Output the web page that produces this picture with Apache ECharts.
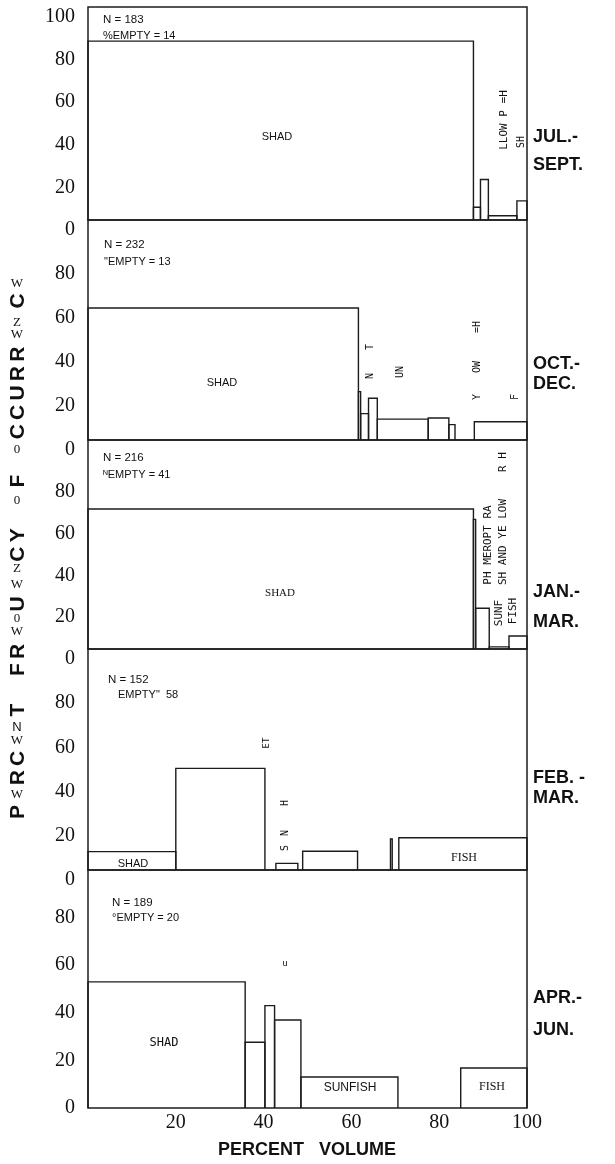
<!DOCTYPE html>
<html><head><meta charset="utf-8">
<script src="https://cdn.jsdelivr.net/npm/echarts@6/dist/echarts.min.js"></script>
<style>html,body{margin:0;padding:0;background:#fff}#c{width:615px;height:1164px}</style>
</head><body><div id="c"></div>
<script>
// ---------------- DATA ----------------
const seasonLine1 = ['JUL.-', 'OCT.-', 'JAN.-', 'FEB. -', 'APR.-'];
const seasonLine2 = ['SEPT.', 'DEC.', 'MAR.', 'MAR.', 'JUN.'];
const sampleN = [183, 232, 216, 152, 189];
const pctEmpty = [14, 13, 41, 58, 20];
const emptyPrefix = ['%EMPTY = ', '"EMPTY = ', 'ᴺEMPTY = ', 'EMPTY"  ', '°EMPTY = '];
const xTickLabels = [20, 40, 60, 80, 100];
const yTickLabels = [0, 20, 40, 60, 80, 100];

// percent volume (bar widths, left to right) and percent frequency of occurrence (bar heights)
const julSepVolume     = [87.8, 1.6, 1.8, 6.5, 2.3];
const julSepOccurrence = [84, 6, 19, 2, 9];
const octDecVolume     = [61.6, 0.5, 1.8, 2.0, 11.6, 4.7, 1.4, 4.4, 12.0];
const octDecOccurrence = [60, 22, 12, 19, 9.5, 10, 7, 0, 8.3];
const janMarVolume     = [87.8, 0.5, 3.1, 4.5, 4.1];
const janMarOccurrence = [67, 62, 19.5, 1, 6.2];
const febMarVolume     = [20, 20.3, 2.5, 5, 1.1, 12.5, 7.5, 0.4, 1.5, 29.2];
const febMarOccurrence = [8.3, 46, 0, 3, 0, 8.5, 0, 14, 0, 14.6];
const aprJunVolume     = [35.8, 4.5, 2.2, 6.0, 22.1, 14.3, 15.1];
const aprJunOccurrence = [53, 27.6, 43, 37, 13, 0, 16.8];

const volumes = [julSepVolume, octDecVolume, janMarVolume, febMarVolume, aprJunVolume];
const occurrences = [julSepOccurrence, octDecOccurrence, janMarOccurrence, febMarOccurrence, aprJunOccurrence];

// ---------------- LAYOUT ----------------
const panelTop = [7, 220, 440, 649, 870];
const panelBottom = [220, 440, 649, 870, 1108];
const plotLeft = 88, plotWidth = 439;
const LINE = '#1c1c1c';

function toBars(vol, occ) {
  let acc = 0;
  return vol.map((w, i) => { const s = acc; acc += w; return [s, acc, occ[i]]; });
}

function renderBar(params, api) {
  const h = api.value(2);
  if (!(h > 0)) return null;
  const a = api.coord([api.value(0), h]);
  const b = api.coord([api.value(1), 0]);
  return {
    type: 'polyline',
    shape: { points: [[a[0], b[1]], [a[0], a[1]], [b[0], a[1]], [b[0], b[1]]] },
    style: { stroke: LINE, lineWidth: 1.4, fill: null }
  };
}

const grids = [], xAxes = [], yAxes = [], series = [];
for (let i = 0; i < 5; i++) {
  grids.push({ left: plotLeft, width: plotWidth, top: panelTop[i], height: panelBottom[i] - panelTop[i],
    show: true, borderColor: LINE, borderWidth: 1.5, backgroundColor: 'transparent' });
  xAxes.push({ type: 'value', gridIndex: i, min: 0, max: 100, interval: 20,
    show: i === 4,
    axisLine: { show: false }, axisTick: { show: false }, splitLine: { show: false },
    axisLabel: { show: i === 4, margin: 5, fontFamily: 'Liberation Serif', fontSize: 20, color: '#111',
      formatter: v => xTickLabels.indexOf(v) >= 0 ? String(v) : '' } });
  yAxes.push({ type: 'value', gridIndex: i, min: 0, max: 100, interval: 20,
    axisLine: { show: false }, axisTick: { show: false }, splitLine: { show: false },
    axisLabel: { margin: 13, fontFamily: 'Liberation Serif', fontSize: 20, color: '#111',
      verticalAlign: i < 4 ? 'top' : 'middle',
      formatter: v => (yTickLabels.indexOf(v) >= 0 && (i === 0 || v < 100)) ? String(v) : '' } });
  series.push({ type: 'custom', xAxisIndex: i, yAxisIndex: i, clip: false,
    encode: { x: [0, 1], y: 2 }, renderItem: renderBar, data: toBars(volumes[i], occurrences[i]) });
}

// ---------------- TEXT ----------------
const graphics = [];
function T(x, y, text, o) {
  o = o || {};
  graphics.push({ type: 'text', x: x, y: y, rotation: o.rot || 0, silent: true,
    style: { text: text, fontFamily: o.ff || 'Liberation Sans', fontSize: o.fs || 11,
      fontWeight: o.fw || 'normal', fill: o.c || '#111',
      align: o.al || 'center', verticalAlign: 'middle' } });
}
const R = Math.PI / 2;
// season labels
const seasonY1 = [137, 364, 592, 778, 998];
const seasonY2 = [165, 384, 622, 798, 1030];
for (let i = 0; i < 5; i++) {
  T(533, seasonY1[i], seasonLine1[i], { al: 'left', fw: 'bold', fs: 18 });
  T(533, seasonY2[i], seasonLine2[i], { al: 'left', fw: 'bold', fs: 18 });
}
// N / %EMPTY
const nPos = [[103, 20, 36], [104, 245, 262], [103, 458, 475], [108, 680, 695], [112, 903, 918]];
for (let i = 0; i < 5; i++) {
  T(nPos[i][0], nPos[i][1], 'N = ' + sampleN[i], { al: 'left', fs: 11.5 });
  T(nPos[i][0] + (i === 3 ? 10 : 0), nPos[i][2], emptyPrefix[i] + pctEmpty[i], { al: 'left', fs: 11 });
}
// prey labels
const MONO = 'DejaVu Sans Mono';
T(277, 137, 'SHAD');
T(504, 120, 'LLOW P =H', { rot: R, ff: MONO, fs: 11 });
T(521, 142, 'SH', { rot: R, ff: MONO, fs: 10 });
T(222, 383, 'SHAD');
T(370, 376, 'N', { rot: R, ff: MONO, fs: 10 });
T(370, 347, 'T', { rot: R, ff: MONO, fs: 10 });
T(400, 372, 'UN', { rot: R, ff: MONO, fs: 10 });
T(477, 397, 'Y', { rot: R, ff: MONO, fs: 10 });
T(477, 367, 'OW', { rot: R, ff: MONO, fs: 10 });
T(477, 327, '=H', { rot: R, ff: MONO, fs: 10 });
T(515, 397, 'F', { rot: R, ff: MONO, fs: 10 });
T(280, 593, 'SHAD', { ff: 'Liberation Serif', fs: 11 });
T(488, 545, 'PH MEROPT RA', { rot: R, ff: MONO, fs: 11 });
T(503, 542, 'SH AND YE LOW', { rot: R, ff: MONO, fs: 11 });
T(503, 462, 'R H', { rot: R, ff: MONO, fs: 11 });
T(499, 613, 'SUNF', { rot: R, ff: MONO, fs: 11 });
T(513, 611, 'FISH', { rot: R, ff: MONO, fs: 11 });
T(267, 743, 'ET', { rot: R, ff: MONO, fs: 9 });
T(285, 803, 'H', { rot: R, ff: MONO, fs: 10 });
T(285, 833, 'N', { rot: R, ff: MONO, fs: 10 });
T(285, 848, 'S', { rot: R, ff: MONO, fs: 10 });
T(133, 864, 'SHAD', { fs: 11 });
T(464, 858, 'FISH', { ff: 'Liberation Serif', fs: 12 });
T(164, 1043, 'SHAD', { ff: MONO, fs: 12 });
T(285, 964, 'u', { ff: MONO, fs: 9 });
T(350, 1088, 'SUNFISH', { fs: 12 });
T(492, 1087, 'FISH', { ff: 'Liberation Serif', fs: 12 });
// axis titles
T(307, 1150, 'PERCENT   VOLUME', { fw: 'bold', fs: 18 });
const titleBold = [['P', 812], ['RC', 768], ['T', 710], ['FR', 660], ['U', 604], ['CY', 545], ['F', 481], ['CCURR', 393], ['C', 301]];
const titleSmall = [['W', 795], ['W', 741], ['N', 727], ['W', 632], ['0', 619], ['W', 585], ['Z', 569], ['0', 501], ['0', 450], ['W', 335], ['Z', 323], ['W', 284]];
titleBold.forEach(t => T(18, t[1], t[0].split('').join('\u2009'), { rot: R, fw: 'bold', fs: 21 }));
titleSmall.forEach(t => T(17, t[1], t[0], { ff: t[0] === 'N' ? 'Liberation Sans' : 'Liberation Serif', fs: 13 }));

const chart = echarts.init(document.getElementById('c'), null, { renderer: 'canvas' });
chart.setOption({
  animation: false,
  backgroundColor: '#fff',
  grid: grids, xAxis: xAxes, yAxis: yAxes, series: series,
  graphic: { elements: graphics }
});
</script></body></html>
